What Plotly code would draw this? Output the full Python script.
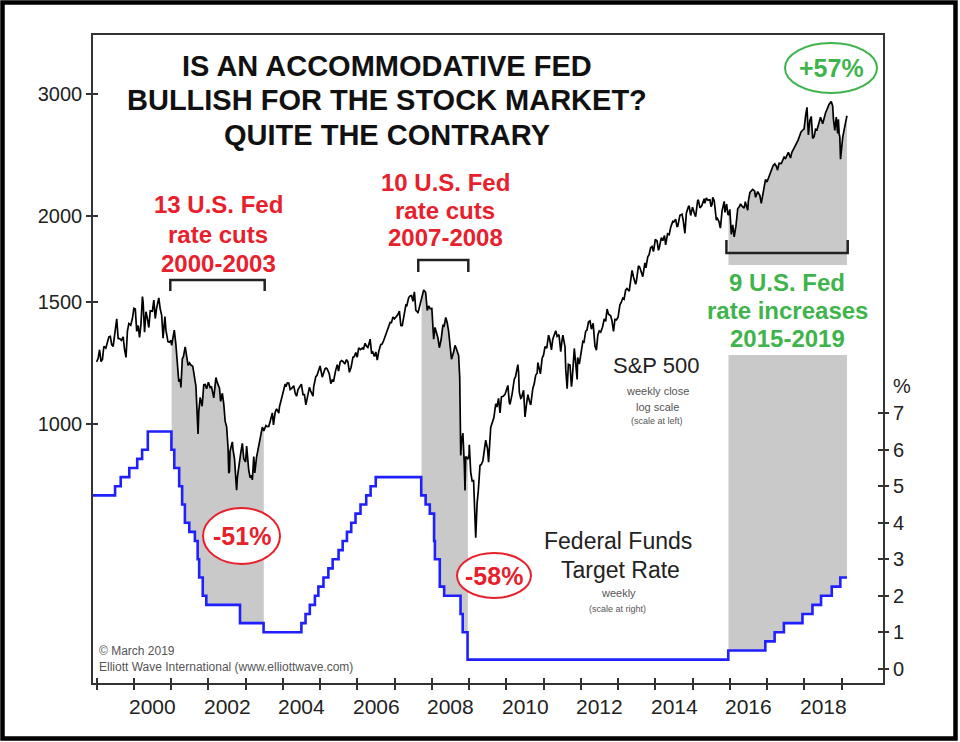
import numpy as np
import pandas as pd
import plotly.graph_objects as go

# ---------------- DATA ----------------
spx_dates = [
"1998-12-31","1999-01-15","1999-01-29","1999-02-12","1999-02-26","1999-03-12","1999-03-31","1999-04-16","1999-04-30","1999-05-14","1999-05-28","1999-06-11","1999-06-30","1999-07-16","1999-07-30","1999-08-13","1999-08-31","1999-09-17","1999-09-30","1999-10-15","1999-10-29","1999-11-12","1999-11-30","1999-12-17","1999-12-31",
"2000-01-14","2000-01-28","2000-02-11","2000-02-25","2000-03-10","2000-03-24","2000-03-31","2000-04-14","2000-04-28","2000-05-12","2000-05-26","2000-06-09","2000-06-30","2000-07-14","2000-07-28","2000-08-11","2000-09-01","2000-09-15","2000-09-29","2000-10-13","2000-10-31","2000-11-10","2000-11-30","2000-12-15","2000-12-29",
"2001-01-05","2001-01-19","2001-01-31","2001-02-16","2001-02-28","2001-03-16","2001-03-30","2001-04-06","2001-04-20","2001-04-30","2001-05-18","2001-05-31","2001-06-15","2001-06-29","2001-07-13","2001-07-31","2001-08-17","2001-08-31","2001-09-21","2001-09-28","2001-10-12","2001-10-31","2001-11-16","2001-11-30","2001-12-14","2001-12-31",
"2002-01-18","2002-01-31","2002-02-22","2002-02-28","2002-03-15","2002-03-28","2002-04-19","2002-04-30","2002-05-17","2002-05-31","2002-06-14","2002-06-28","2002-07-12","2002-07-19","2002-07-26","2002-07-31","2002-08-23","2002-08-30","2002-09-13","2002-09-30","2002-10-04","2002-10-11","2002-10-31","2002-11-15","2002-11-29","2002-12-13","2002-12-31",
"2003-01-10","2003-01-31","2003-02-14","2003-02-28","2003-03-07","2003-03-21","2003-03-31","2003-04-17","2003-04-30","2003-05-16","2003-05-30","2003-06-13","2003-06-27","2003-07-18","2003-07-31","2003-08-15","2003-08-29","2003-09-19","2003-09-30","2003-10-17","2003-10-31","2003-11-21","2003-11-28","2003-12-19","2003-12-31",
"2004-01-23","2004-01-30","2004-02-13","2004-02-27","2004-03-12","2004-03-31","2004-04-16","2004-04-30","2004-05-14","2004-05-28","2004-06-18","2004-06-30","2004-07-16","2004-07-30","2004-08-13","2004-08-31","2004-09-17","2004-09-30","2004-10-22","2004-10-29","2004-11-19","2004-11-30","2004-12-17","2004-12-31",
"2005-01-21","2005-01-31","2005-02-18","2005-02-28","2005-03-11","2005-03-31","2005-04-15","2005-04-29","2005-05-13","2005-05-31","2005-06-17","2005-06-30","2005-07-15","2005-07-29","2005-08-12","2005-08-31","2005-09-16","2005-09-30","2005-10-14","2005-10-31","2005-11-18","2005-11-30","2005-12-16","2005-12-30",
"2006-01-13","2006-01-31","2006-02-17","2006-02-28","2006-03-17","2006-03-31","2006-04-13","2006-04-28","2006-05-05","2006-05-19","2006-05-31","2006-06-16","2006-06-30","2006-07-14","2006-07-31","2006-08-18","2006-08-31","2006-09-15","2006-09-29","2006-10-20","2006-10-31","2006-11-17","2006-11-30","2006-12-15","2006-12-29",
"2007-01-19","2007-01-31","2007-02-16","2007-03-02","2007-03-16","2007-03-30","2007-04-20","2007-04-30","2007-05-18","2007-05-31","2007-06-15","2007-06-29","2007-07-13","2007-07-27","2007-08-10","2007-08-17","2007-08-31","2007-09-21","2007-09-28","2007-10-12","2007-10-31","2007-11-16","2007-11-30","2007-12-14","2007-12-31",
"2008-01-18","2008-01-31","2008-02-15","2008-02-29","2008-03-14","2008-03-31","2008-04-18","2008-04-30","2008-05-16","2008-05-30","2008-06-13","2008-06-30","2008-07-11","2008-07-31","2008-08-15","2008-08-29","2008-09-19","2008-09-30","2008-10-10","2008-10-17","2008-10-31","2008-11-14","2008-11-21","2008-11-28","2008-12-19","2008-12-31",
"2009-01-02","2009-01-16","2009-01-30","2009-02-13","2009-02-27","2009-03-06","2009-03-20","2009-03-31","2009-04-17","2009-04-30","2009-05-15","2009-05-29","2009-06-12","2009-06-30","2009-07-10","2009-07-31","2009-08-14","2009-08-31","2009-09-18","2009-09-30","2009-10-16","2009-10-30","2009-11-13","2009-11-30","2009-12-18","2009-12-31",
"2010-01-15","2010-01-29","2010-02-05","2010-02-26","2010-03-19","2010-03-31","2010-04-23","2010-04-30","2010-05-07","2010-05-21","2010-05-28","2010-06-18","2010-07-02","2010-07-16","2010-07-30","2010-08-13","2010-08-27","2010-09-17","2010-09-30","2010-10-15","2010-10-29","2010-11-05","2010-11-30","2010-12-17","2010-12-31",
"2011-01-14","2011-01-31","2011-02-18","2011-02-28","2011-03-18","2011-03-31","2011-04-29","2011-05-13","2011-05-31","2011-06-17","2011-06-30","2011-07-08","2011-07-29","2011-08-05","2011-08-19","2011-08-31","2011-09-16","2011-09-30","2011-10-07","2011-10-28","2011-11-25","2011-11-30","2011-12-16","2011-12-30",
"2012-01-20","2012-01-31","2012-02-17","2012-02-29","2012-03-16","2012-03-30","2012-04-13","2012-04-30","2012-05-18","2012-06-01","2012-06-15","2012-06-29","2012-07-13","2012-07-31","2012-08-17","2012-08-31","2012-09-14","2012-09-28","2012-10-19","2012-10-31","2012-11-16","2012-11-30","2012-12-14","2012-12-31",
"2013-01-18","2013-01-31","2013-02-15","2013-02-28","2013-03-15","2013-03-28","2013-04-19","2013-04-30","2013-05-17","2013-05-31","2013-06-21","2013-06-28","2013-07-19","2013-07-31","2013-08-16","2013-08-30","2013-09-20","2013-09-30","2013-10-18","2013-10-31","2013-11-15","2013-11-29","2013-12-13","2013-12-31",
"2014-01-17","2014-01-31","2014-02-07","2014-02-28","2014-03-14","2014-03-31","2014-04-11","2014-04-30","2014-05-16","2014-05-30","2014-06-20","2014-06-30","2014-07-18","2014-07-31","2014-08-08","2014-08-29","2014-09-19","2014-09-30","2014-10-17","2014-10-31","2014-11-21","2014-11-28","2014-12-12","2014-12-31",
"2015-01-16","2015-01-30","2015-02-20","2015-02-27","2015-03-13","2015-03-31","2015-04-24","2015-04-30","2015-05-15","2015-05-29","2015-06-19","2015-06-30","2015-07-10","2015-07-17","2015-07-31","2015-08-21","2015-08-28","2015-09-18","2015-09-25","2015-09-30","2015-10-16","2015-10-30","2015-11-06","2015-11-13","2015-11-30","2015-12-11","2015-12-18","2015-12-31",
"2016-01-15","2016-01-29","2016-02-12","2016-02-29","2016-03-18","2016-03-31","2016-04-15","2016-04-29","2016-05-20","2016-05-31","2016-06-24","2016-06-30","2016-07-15","2016-07-29","2016-08-12","2016-08-31","2016-09-09","2016-09-30","2016-10-21","2016-11-04","2016-11-30","2016-12-16","2016-12-30",
"2017-01-27","2017-02-28","2017-03-17","2017-03-31","2017-04-13","2017-04-28","2017-05-19","2017-05-31","2017-06-16","2017-06-30","2017-07-28","2017-08-18","2017-08-31","2017-09-29","2017-10-31","2017-11-30","2017-12-29",
"2018-01-12","2018-01-26","2018-02-09","2018-02-23","2018-03-09","2018-03-23","2018-04-06","2018-04-20","2018-05-04","2018-05-18","2018-06-08","2018-06-29","2018-07-27","2018-08-31","2018-09-21","2018-10-05","2018-10-12","2018-10-26","2018-11-09","2018-11-23","2018-11-30","2018-12-07","2018-12-14","2018-12-21","2018-12-28",
"2019-01-11","2019-01-25","2019-02-15","2019-02-22"]

spx_close = [
1229.2,1243.3,1279.6,1230.1,1238.3,1294.6,1286.4,1319.0,1335.2,1337.8,1301.8,1293.6,1372.7,1418.8,1328.7,1327.7,1320.4,1335.4,1282.7,1247.4,1362.9,1396.1,1388.9,1421.0,1469.3,
1465.2,1360.2,1387.1,1333.4,1395.1,1527.5,1498.6,1356.6,1452.4,1421.0,1378.0,1457.0,1454.6,1510.0,1419.9,1471.8,1520.8,1465.8,1436.5,1329.8,1429.4,1366.0,1315.0,1312.2,1320.3,
1298.4,1342.5,1366.0,1301.5,1239.9,1150.5,1160.3,1128.4,1243.0,1249.5,1292.0,1255.8,1214.4,1224.4,1215.7,1211.2,1162.0,1133.6,965.8,1040.9,1091.7,1059.8,1138.7,1139.5,1123.1,1148.1,
1127.6,1130.2,1089.8,1106.7,1166.2,1147.4,1125.2,1076.9,1106.6,1067.1,1007.3,989.8,921.4,847.8,852.8,911.6,940.9,916.1,889.8,815.3,800.6,835.3,885.8,909.8,936.3,889.5,879.8,
927.6,855.7,834.9,841.2,828.9,895.8,848.2,893.6,916.9,944.3,963.6,988.6,976.2,993.3,990.3,990.7,1008.0,1036.3,996.0,1039.3,1050.7,1035.3,1058.2,1088.7,1111.9,
1141.6,1131.1,1145.8,1144.9,1120.6,1126.2,1134.6,1107.3,1095.7,1120.7,1135.0,1140.8,1101.4,1101.7,1064.8,1104.2,1128.6,1114.6,1095.7,1130.2,1170.3,1173.8,1194.2,1211.9,
1167.9,1181.3,1201.6,1203.6,1200.1,1180.6,1142.6,1156.9,1154.1,1191.5,1217.0,1191.3,1227.9,1234.2,1230.4,1220.3,1237.9,1228.8,1186.6,1207.0,1248.3,1249.5,1267.3,1248.3,
1287.6,1280.1,1287.2,1280.7,1307.3,1294.8,1289.1,1310.6,1325.8,1267.0,1270.1,1251.5,1270.2,1236.2,1276.7,1302.3,1303.8,1319.7,1335.9,1368.6,1377.9,1401.2,1400.6,1427.1,1418.3,
1430.5,1438.2,1455.5,1387.2,1387.0,1420.9,1484.4,1482.4,1522.8,1530.6,1532.9,1503.4,1552.5,1459.0,1453.6,1445.9,1474.0,1525.8,1526.8,1561.8,1549.4,1458.7,1481.1,1468.0,1468.4,
1325.2,1378.6,1350.0,1330.6,1288.1,1322.7,1390.3,1385.6,1425.4,1400.4,1360.0,1280.0,1239.5,1267.4,1298.2,1282.8,1255.1,1166.4,899.2,940.6,968.8,873.3,800.0,896.2,887.9,903.3,
931.8,850.1,825.9,826.8,735.1,683.4,768.5,797.9,869.6,872.8,882.9,919.1,946.2,919.3,879.1,987.5,1004.1,1020.6,1068.3,1057.1,1087.7,1036.2,1093.5,1095.6,1102.5,1115.1,
1136.0,1073.9,1066.2,1104.5,1159.9,1169.4,1217.3,1186.7,1110.9,1087.7,1089.4,1117.5,1022.6,1064.9,1101.6,1079.3,1064.6,1125.6,1141.2,1176.2,1183.3,1225.9,1180.6,1243.9,1257.6,
1293.2,1286.1,1343.0,1327.2,1279.2,1325.8,1363.6,1337.8,1345.2,1271.5,1320.6,1343.8,1292.3,1199.4,1123.5,1218.9,1216.0,1131.4,1155.5,1285.1,1158.7,1247.0,1219.7,1257.6,
1315.4,1312.4,1361.2,1365.7,1404.2,1408.5,1370.3,1397.9,1295.2,1278.0,1342.8,1362.2,1356.8,1379.3,1418.2,1406.6,1465.8,1440.7,1433.2,1412.2,1359.9,1416.2,1413.6,1426.2,
1486.0,1498.1,1519.8,1514.7,1560.7,1569.2,1555.3,1597.6,1667.5,1630.7,1592.4,1606.3,1692.1,1685.7,1655.8,1633.0,1709.9,1681.6,1744.5,1756.5,1798.2,1805.8,1775.3,1848.4,
1838.7,1782.6,1797.0,1859.5,1841.1,1872.3,1815.7,1884.0,1877.9,1923.6,1962.9,1960.2,1978.2,1930.7,1931.6,2003.4,2010.4,1972.3,1886.8,2018.1,2063.5,2067.6,2002.3,2058.9,
2019.4,1995.0,2110.3,2104.5,2053.4,2067.9,2117.7,2085.5,2122.7,2107.4,2110.0,2063.1,2076.6,2126.6,2103.8,1970.9,1988.9,1958.1,1931.3,1920.0,2033.1,2079.4,2099.2,2023.0,2080.4,2012.4,2005.6,2043.9,
1880.3,1940.2,1864.8,1932.2,2049.6,2059.7,2080.7,2065.3,2052.3,2097.0,2037.4,2098.9,2161.7,2173.6,2184.1,2171.0,2127.8,2168.3,2141.2,2085.2,2198.8,2258.1,2238.8,
2294.7,2363.6,2378.3,2362.7,2329.0,2384.2,2381.7,2411.8,2433.2,2423.4,2472.1,2425.6,2471.7,2519.4,2575.3,2647.6,2673.6,
2786.2,2872.9,2619.6,2747.3,2786.6,2588.3,2604.5,2670.1,2663.4,2713.0,2779.0,2718.4,2818.8,2901.5,2929.7,2885.6,2767.1,2658.7,2781.0,2632.6,2760.2,2633.1,2600.0,2416.6,2485.7,
2596.3,2664.8,2775.6,2792.7]

fed_dates = ["1998-11-17","1999-06-30","1999-08-24","1999-11-16","2000-02-02","2000-03-21","2000-05-16",
             "2001-01-03","2001-01-31","2001-03-20","2001-04-18","2001-05-15","2001-06-27","2001-08-21",
             "2001-09-17","2001-10-02","2001-11-06","2001-12-11","2002-11-06","2003-06-25",
             "2004-06-30","2004-08-10","2004-09-21","2004-11-10","2004-12-14","2005-02-02","2005-03-22",
             "2005-05-03","2005-06-30","2005-08-09","2005-09-20","2005-11-01","2005-12-13","2006-01-31",
             "2006-03-28","2006-05-10","2006-06-29","2007-09-18","2007-10-31","2007-12-11","2008-01-22",
             "2008-01-30","2008-03-18","2008-04-30","2008-10-08","2008-10-29","2008-12-16","2015-12-16",
             "2016-12-14","2017-03-15","2017-06-14","2017-12-13","2018-03-21","2018-06-13","2018-09-26",
             "2018-12-19","2019-02-22"]
fed_rate = [4.75,5.0,5.25,5.5,5.75,6.0,6.5,
            6.0,5.5,5.0,4.5,4.0,3.75,3.5,
            3.0,2.5,2.0,1.75,1.25,1.0,
            1.25,1.5,1.75,2.0,2.25,2.5,2.75,
            3.0,3.25,3.5,3.75,4.0,4.25,4.5,
            4.75,5.0,5.25,4.75,4.5,4.25,3.5,
            3.0,2.25,2.0,1.5,1.0,0.25,0.5,
            0.75,1.0,1.25,1.5,1.75,2.0,2.25,
            2.5,2.5]

# Fed policy periods (start, end) shaded in gray
period_starts = ["2001-01-03", "2007-09-18", "2015-12-16"]
period_ends = ["2003-06-25", "2008-12-16", "2019-02-22"]

spx_ticks = [1000, 1500, 2000, 3000]
spx_ticktext = ["1000", "1500", "2000", "3000"]
rate_ticks = [0, 1, 2, 3, 4, 5, 6, 7]
year_ticks = list(range(1999, 2020))
year_labels = ["2000", "2002", "2004", "2006", "2008", "2010", "2012", "2014", "2016", "2018"]

# ---------------- HELPERS ----------------
def to_year(dates):
    d = pd.to_datetime(pd.Series(dates))
    days = np.where(d.dt.is_leap_year, 366.0, 365.0)
    return (d.dt.year + (d.dt.dayofyear - 1) / days).to_numpy()

spx_x = to_year(spx_dates)
spx_y = np.array(spx_close)
fed_x = to_year(fed_dates)
fed_y = np.array(fed_rate)
p_start = to_year(period_starts)
p_end = to_year(period_ends)
tol = 7 / 365.0

FONT = "Arial, Liberation Sans, sans-serif"
GRAY = "#c9c9c9"
RED = "#e8202c"
GREEN = "#3fb44c"
BLUE = "#1f1fff"
AXC = "#333333"

# plot-area geometry (pixels) used only to place annotations in paper units
L, R, T, B = 93, 883, 35, 683
W, H = R - L, B - T
def px(xp): return (xp - L) / W
def py(yp): return (B - yp) / H

fig = go.Figure()

# gray shaded areas (S&P down to a baseline under the fed line)
BASE = 450
for s, e in zip(p_start, p_end):
    m = (spx_x >= s) & (spx_x <= e + tol)
    xs, ys = spx_x[m], spx_y[m]
    fig.add_trace(go.Scatter(x=np.concatenate([xs, xs[::-1]]),
                             y=np.concatenate([ys, np.full(len(ys), BASE)]),
                             fill="toself", fillcolor=GRAY, line=dict(width=0),
                             mode="lines", hoverinfo="skip", showlegend=False,
                             xaxis="x", yaxis="y"))

# S&P 500 line
fig.add_trace(go.Scatter(x=spx_x, y=spx_y, mode="lines",
                         line=dict(color="#000000", width=1.7),
                         hoverinfo="skip", showlegend=False, xaxis="x", yaxis="y"))

# white masks below the fed line inside shaded periods (slightly wider than the gray)
for s, e in zip(p_start, p_end):
    m = (fed_x >= s) & (fed_x <= e)
    prev = fed_y[fed_x < s][-1]
    xs = [s - 2 * tol] + list(fed_x[m]) + [e + 3 * tol]
    ys = [prev] + list(fed_y[m]) + [fed_y[m][-1]]
    fig.add_trace(go.Scatter(x=xs, y=ys, mode="lines", line=dict(width=0, shape="hv"),
                             fill="tozeroy", fillcolor="#ffffff",
                             hoverinfo="skip", showlegend=False, xaxis="x", yaxis="y2"))

# fed funds rate line
fig.add_trace(go.Scatter(x=fed_x, y=fed_y, mode="lines",
                         line=dict(color=BLUE, width=2.6, shape="hv"),
                         hoverinfo="skip", showlegend=False, xaxis="x", yaxis="y2"))

# invisible traces to draw the inner halves of crossing ticks
fig.add_trace(go.Scatter(x=[2010], y=[1500], mode="markers", marker=dict(opacity=0, size=1),
                         hoverinfo="skip", showlegend=False, xaxis="x2", yaxis="y3"))
fig.add_trace(go.Scatter(x=[2010], y=[3], mode="markers", marker=dict(opacity=0, size=1),
                         hoverinfo="skip", showlegend=False, xaxis="x2", yaxis="y4"))

xr = [1998.90, 2020.11]
yr = [np.log10(421.0), np.log10(3656.0)]
y2r = [-0.39, 17.36]

fig.update_layout(
    width=960, height=742, autosize=False,
    margin=dict(l=L, r=960 - R, t=T, b=742 - B, pad=0),
    paper_bgcolor="white", plot_bgcolor="white",
    font=dict(family=FONT, color="#222222"),
    hovermode=False,
    xaxis=dict(range=xr, tickvals=year_ticks, showticklabels=False, ticks="outside",
               ticklen=5, tickwidth=1.5, tickcolor=AXC, showline=True, linecolor=AXC,
               linewidth=1.5, mirror=True, showgrid=False, zeroline=False),
    xaxis2=dict(range=xr, overlaying="x", anchor="y", tickvals=year_ticks, showticklabels=False,
                ticks="inside", ticklen=5, tickwidth=1.5, tickcolor=AXC, showline=False,
                showgrid=False, zeroline=False),
    yaxis=dict(type="log", range=yr, tickvals=spx_ticks, ticktext=spx_ticktext,
               ticks="outside", ticklen=5, tickwidth=1.5, tickcolor=AXC,
               tickfont=dict(size=20, color="#222222"),
               showline=True, linecolor=AXC, linewidth=1.5, mirror=True,
               showgrid=False, zeroline=False),
    yaxis3=dict(type="log", range=yr, overlaying="y", side="left", anchor="x", tickvals=spx_ticks,
                showticklabels=False, ticks="inside", ticklen=5, tickwidth=1.5, tickcolor=AXC,
                showline=False, showgrid=False, zeroline=False),
    yaxis2=dict(range=y2r, overlaying="y", side="right", anchor="x", tickvals=rate_ticks,
                ticks="outside", ticklen=5, tickwidth=1.5, tickcolor=AXC,
                tickfont=dict(size=20, color="#222222"),
                showline=False, showgrid=False, zeroline=False),
    yaxis4=dict(range=y2r, overlaying="y", side="right", anchor="x", tickvals=rate_ticks,
                showticklabels=False, ticks="inside", ticklen=5, tickwidth=1.5, tickcolor=AXC,
                showline=False, showgrid=False, zeroline=False),
)

ann = []
def text(x, y, s, size, color, bold=False, xanchor="center", xref="paper", bg=None):
    d = dict(x=x, y=y, xref=xref, yref="paper", text=(f"<b>{s}</b>" if bold else s),
             showarrow=False, xanchor=xanchor, yanchor="middle",
             font=dict(family=FONT, size=size, color=color))
    if bg:
        d["bgcolor"] = bg
    ann.append(d)

# title
for s, yp in zip(["IS AN ACCOMMODATIVE FED", "BULLISH FOR THE STOCK MARKET?", "QUITE THE CONTRARY"],
                 [66, 100, 135]):
    text(px(387), py(yp), s, 29, "#111111", bold=True)

# red notes
for s, yp in zip(["13 U.S. Fed", "rate cuts", "2000-2003"], [204, 234, 263]):
    text(px(218), py(yp), s, 24, RED, bold=True)
for s, yp in zip(["10 U.S. Fed", "rate cuts", "2007-2008"], [182, 210, 238]):
    text(px(445), py(yp), s, 24, RED, bold=True)

# green notes
for s, yp in zip(["9 U.S. Fed", "rate increases", "2015-2019"], [282, 310, 338]):
    text(px(787), py(yp), s, 24, GREEN, bold=True)

text(px(831), py(68), "+57%", 25, GREEN, bold=True)
text(px(242), py(536), "-51%", 25, RED, bold=True)
text(px(494), py(576), "-58%", 25, RED, bold=True)

# series labels
text(px(656), py(366), "S&P 500", 22, "#222222")
text(px(657), py(391), "weekly close", 11, "#555555")
text(px(657), py(407), "log scale", 11, "#555555")
text(px(657), py(421), "(scale at left)", 9, "#555555")
text(px(618), py(541), "Federal Funds", 23, "#222222")
text(px(620), py(570), "Target Rate", 23, "#222222")
text(px(618), py(593), "weekly", 11, "#555555")
text(px(617), py(609), "(scale at right)", 9, "#555555")

# credits
text(px(97), py(651), "© March 2019", 12, "#555555", xanchor="left")
text(px(97), py(667), "Elliott Wave International (www.elliottwave.com)", 12, "#555555", xanchor="left")

# % label for right axis
text(px(902), py(386), "%", 20, "#222222")

# year labels (centred in their year)
for lab in year_labels:
    text(int(lab) + 0.5, py(706), lab, 21, "#222222", xref="x")

fig.update_layout(annotations=ann)

shapes = []
# white box behind green text
shapes.append(dict(type="rect", xref="paper", yref="paper", x0=px(712), x1=px(866),
                   y0=py(355), y1=py(265), fillcolor="white", line=dict(width=0), layer="above"))
# ellipses
def ellipse(x0, x1, y0, y1, color, fill):
    shapes.append(dict(type="circle", xref="paper", yref="paper", x0=px(x0), x1=px(x1),
                       y0=py(y1), y1=py(y0), line=dict(color=color, width=2),
                       fillcolor=fill, layer="above"))
ellipse(785, 877, 43, 93, GREEN, "rgba(0,0,0,0)")
ellipse(203, 280, 508, 564, RED, "white")
ellipse(457, 531, 553, 598, RED, "white")

# brackets (x in data years, y in paper)
def bracket(x0, x1, ybar, yend):
    path = (f"M {x0},{py(yend)} L {x0},{py(ybar)} L {x1},{py(ybar)} L {x1},{py(yend)}")
    shapes.append(dict(type="path", xref="x", yref="paper", path=path,
                       line=dict(color="#222222", width=2.5), layer="above"))
bracket(p_start[0] - 0.03, p_end[0] + 0.03, 280, 291)
bracket(p_start[1] - 0.08, p_end[1] + 0.02, 260, 272)
bracket(p_start[2] - 0.05, p_end[2] + 0.02, 253, 240)

# outer frame
shapes.append(dict(type="rect", xref="paper", yref="paper",
                   x0=px(2.5), x1=px(955.5), y0=py(738.5), y1=py(2.5),
                   line=dict(color="#000000", width=4.5), fillcolor="rgba(0,0,0,0)", layer="above"))
fig.update_layout(shapes=shapes)

fig.write_html("out.html", config={"displayModeBar": False},
               post_script="document.body.style.margin='0';")
